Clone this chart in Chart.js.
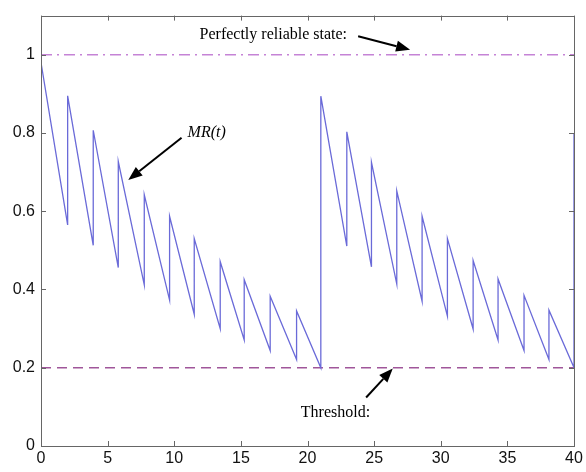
<!DOCTYPE html>
<html>
<head>
<meta charset="utf-8">
<script src="https://cdn.jsdelivr.net/npm/chart.js@4.4.1/dist/chart.umd.min.js"></script>
<style>
    html, body { margin: 0; padding: 0; background: #fff; }
    #wrap { width: 586px; height: 472px; }
</style>
</head>
<body>
<div id="wrap"><canvas id="chart"></canvas></div>
<script>
// MR(t) vertices: time and value of each corner
const mrTimes = [
    0, 2.0, 2.0, 3.92, 3.92, 5.8, 5.8, 7.75, 7.75, 9.65, 9.65, 11.5, 11.5,
    13.45, 13.45, 15.25, 15.25, 17.2, 17.2, 19.18, 19.18, 21.0,
    21.0, 22.95, 22.95, 24.8, 24.8, 26.7, 26.7, 28.6, 28.6, 30.5, 30.5,
    32.43, 32.43, 34.3, 34.3, 36.25, 36.25, 38.12, 38.12, 40.0, 40.0
];
const mrValues = [
    0.98, 0.565, 0.895, 0.513, 0.807, 0.456, 0.727, 0.412, 0.642, 0.373, 0.587, 0.337, 0.53,
    0.30, 0.471, 0.271, 0.425, 0.244, 0.383, 0.221, 0.345, 0.2,
    0.894, 0.511, 0.803, 0.458, 0.725, 0.414, 0.652, 0.370, 0.587, 0.332, 0.53,
    0.299, 0.474, 0.271, 0.427, 0.244, 0.385, 0.221, 0.347, 0.2, 0.8
];
const perfectLevel = 1;
const thresholdLevel = 0.2;
const xTicks = [0, 5, 10, 15, 20, 25, 30, 35, 40];
const yTicks = [0, 0.2, 0.4, 0.6, 0.8, 1];

const mrData = mrTimes.map(function(t, i) { return { x: t, y: mrValues[i] }; });

function arrow(ctx, x1, y1, x2, y2) {
    const ang = Math.atan2(y2 - y1, x2 - x1);
    const len = 14, half = 5.5;
    const bx = x2 - len * Math.cos(ang), by = y2 - len * Math.sin(ang);
    ctx.beginPath();
    ctx.moveTo(x1, y1);
    ctx.lineTo(bx, by);
    ctx.lineWidth = 2;
    ctx.strokeStyle = '#000';
    ctx.stroke();
    ctx.beginPath();
    ctx.moveTo(x2, y2);
    ctx.lineTo(bx + half * Math.sin(ang), by - half * Math.cos(ang));
    ctx.lineTo(bx - half * Math.sin(ang), by + half * Math.cos(ang));
    ctx.closePath();
    ctx.fillStyle = '#000';
    ctx.fill();
}

// frame with inward ticks on all four sides, plus the text notes and arrows
const framePlugin = {
    id: 'frame',
    afterDatasetsDraw: function(chart) {
        const ctx = chart.ctx;
        const a = chart.chartArea;
        const sx = chart.scales.x, sy = chart.scales.y;
        ctx.save();
        ctx.strokeStyle = '#666';
        ctx.lineWidth = 1;
        ctx.strokeRect(Math.round(a.left) + 0.5, Math.round(a.top) + 0.5,
            Math.round(a.right - a.left), Math.round(a.bottom - a.top));
        ctx.beginPath();
        xTicks.forEach(function(v) {
            const px = Math.round(sx.getPixelForValue(v)) + 0.5;
            ctx.moveTo(px, a.bottom); ctx.lineTo(px, a.bottom - 5);
            ctx.moveTo(px, a.top); ctx.lineTo(px, a.top + 5);
        });
        yTicks.forEach(function(v) {
            const py = Math.round(sy.getPixelForValue(v)) + 0.5;
            ctx.moveTo(a.left, py); ctx.lineTo(a.left + 5, py);
            ctx.moveTo(a.right, py); ctx.lineTo(a.right - 5, py);
        });
        ctx.stroke();

        function P(t, v) { return [sx.getPixelForValue(t), sy.getPixelForValue(v)]; }

        ctx.fillStyle = '#000';
        ctx.textBaseline = 'middle';
        ctx.textAlign = 'left';
        ctx.font = '16px "Liberation Serif", "Times New Roman", serif';
        let p = P(11.9, 1.05);
        ctx.fillText('Perfectly reliable state:', p[0], p[1]);
        p = P(19.5, 0.085);
        ctx.fillText('Threshold:', p[0], p[1]);
        ctx.font = 'italic 16px "Liberation Serif", "Times New Roman", serif';
        p = P(11.0, 0.80);
        ctx.fillText('MR(t)', p[0], p[1]);

        let f = P(23.8, 1.047), h = P(27.7, 1.013);
        arrow(ctx, f[0], f[1], h[0], h[1]);
        f = P(10.55, 0.788); h = P(6.55, 0.68);
        arrow(ctx, f[0], f[1], h[0], h[1]);
        f = P(24.4, 0.124); h = P(26.4, 0.198);
        arrow(ctx, f[0], f[1], h[0], h[1]);
        ctx.restore();
    }
};

const ctx = document.getElementById('chart').getContext('2d');
new Chart(ctx, {
    type: 'line',
    data: {
        datasets: [
            {
                label: 'MR(t)',
                data: mrData,
                borderColor: '#6a6ad8',
                borderWidth: 1.3,
                pointRadius: 0,
                tension: 0
            },
            {
                label: 'Perfectly reliable state',
                data: [{ x: 0, y: perfectLevel }, { x: 40, y: perfectLevel }],
                borderColor: '#c583d6',
                borderWidth: 1.3,
                borderDash: [11, 5, 2, 5],
                pointRadius: 0
            },
            {
                label: 'Threshold',
                data: [{ x: 0, y: thresholdLevel }, { x: 40, y: thresholdLevel }],
                borderColor: '#a0569a',
                borderWidth: 1.3,
                borderDash: [10, 6],
                pointRadius: 0
            }
        ]
    },
    options: {
        responsive: true,
        maintainAspectRatio: false,
        animation: false,
        layout: { padding: { top: 12, right: 12, left: 0, bottom: 0 } },
        plugins: {
            legend: { display: false },
            tooltip: { enabled: false }
        },
        scales: {
            x: {
                type: 'linear',
                min: 0,
                max: 40,
                grid: { display: false, drawTicks: false },
                border: { display: false },
                afterBuildTicks: function(scale) {
                    scale.ticks = xTicks.map(function(v) { return { value: v }; });
                },
                afterFit: function(scale) { scale.height = 26; },
                ticks: {
                    padding: 3,
                    maxRotation: 0,
                    color: '#111',
                    font: { family: '"Liberation Sans", Arial, sans-serif', size: 16 }
                }
            },
            y: {
                type: 'linear',
                min: 0,
                max: 1.1,
                grid: { display: false, drawTicks: false },
                border: { display: false },
                afterBuildTicks: function(scale) {
                    scale.ticks = yTicks.map(function(v) { return { value: v }; });
                },
                afterFit: function(scale) { scale.width = 41; },
                ticks: {
                    padding: 6,
                    color: '#111',
                    font: { family: '"Liberation Sans", Arial, sans-serif', size: 16 },
                    callback: function(v) { return String(Math.round(v * 10) / 10); }
                }
            }
        }
    },
    plugins: [framePlugin]
});
</script>
</body>
</html>
